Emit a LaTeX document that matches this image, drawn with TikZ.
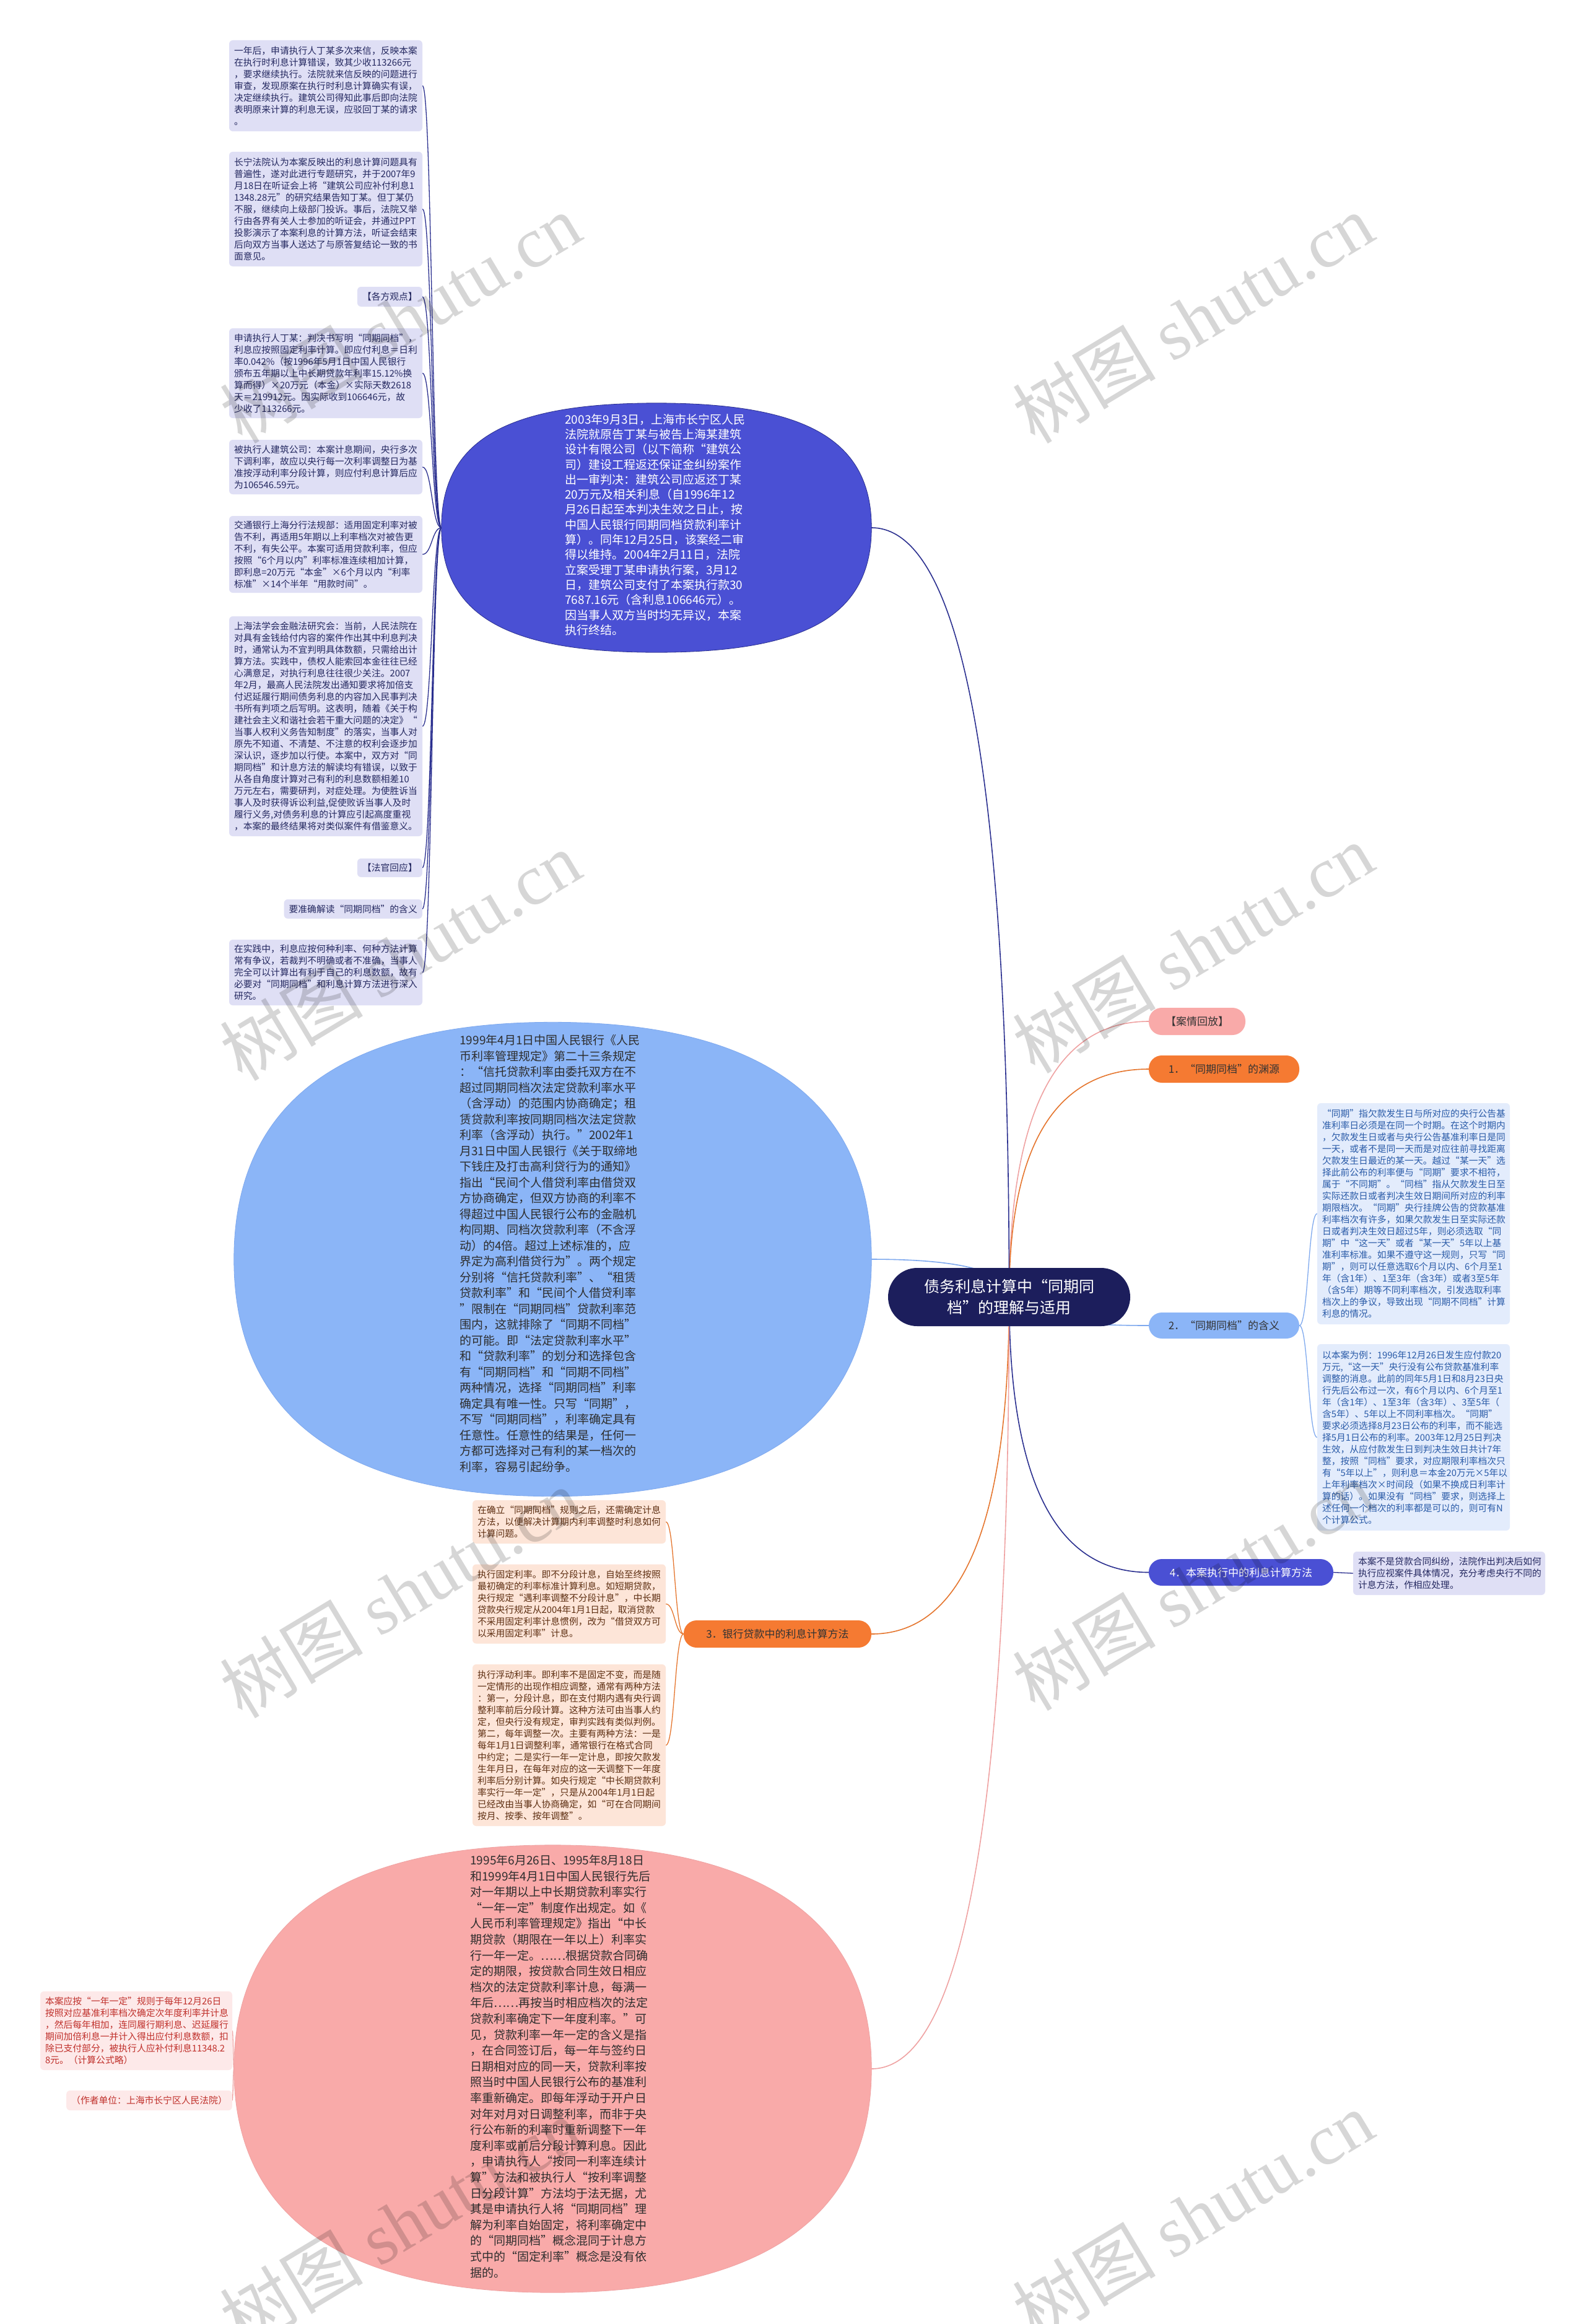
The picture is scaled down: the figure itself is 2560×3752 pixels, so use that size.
\documentclass[tikz,border=0pt]{standalone}
\usepackage{fontspec}
\setmainfont{Noto Sans CJK SC}
\newfontfamily\wmlat{Liberation Serif}
\usetikzlibrary{calc}
\pgfdeclarelayer{bg}
\pgfdeclarelayer{fg}
\pgfsetlayers{bg,main,fg}
\definecolor{navyline}{HTML}{2A2F8F}
\definecolor{indigof}{HTML}{4A50D4}
\definecolor{lbluef}{HTML}{8BB5F7}
\definecolor{lblueline}{HTML}{7FA9EE}
\definecolor{pinkf}{HTML}{F9AAA9}
\definecolor{pinkline}{HTML}{EFA2A2}
\definecolor{orangef}{HTML}{F57A32}
\definecolor{orangeline}{HTML}{E5752D}
\definecolor{rootf}{HTML}{1C1E5C}
\definecolor{lavbox}{HTML}{DFDFF5}
\definecolor{lavtext}{HTML}{242860}
\definecolor{bluebox}{HTML}{E3ECFC}
\definecolor{bluetext}{HTML}{2A5BA8}
\definecolor{peachbox}{HTML}{FDE5D8}
\definecolor{peachtext}{HTML}{5E2F12}
\definecolor{pinkbox}{HTML}{FDE9E9}
\definecolor{pinktext}{HTML}{C0302B}
\definecolor{pilltext}{HTML}{333333}
\definecolor{darktext}{HTML}{2D2D2D}
\newcommand{\rootlink}[2]{%
  \path (root.center |- #1) coordinate (rlc);
  \draw[#2] (root.center) .. controls ($(root.center)!0.6667!(rlc)$) and ($(#1)!0.6667!(rlc)$) .. (#1);}
\newcommand{\sublink}[3]{%
  \path ($(#1)!0.5!(#2)$) coordinate (slm);
  \draw[#3] (#1) .. controls (slm |- #1) and (slm |- #2) .. (#2);}
\newcommand{\superfill}[4]{%
  \filldraw[fill=#2, draw=#3, line width=0.8]
   (#1.east) .. controls ($(#1.east)!#4!(#1.north east)$) and ($(#1.north)!#4!(#1.north east)$) .. (#1.north)
   .. controls ($(#1.north)!#4!(#1.north west)$) and ($(#1.west)!#4!(#1.north west)$) .. (#1.west)
   .. controls ($(#1.west)!#4!(#1.south west)$) and ($(#1.south)!#4!(#1.south west)$) .. (#1.south)
   .. controls ($(#1.south)!#4!(#1.south east)$) and ($(#1.east)!#4!(#1.south east)$) .. (#1.east) -- cycle;}
\begin{document}
\begin{tikzpicture}[x=1pt,y=-1pt,
  smallfont/.style={font=\fontsize{14.8}{19}\selectfont},
  lbox/.style={smallfont, fill=lavbox, text=lavtext, rounded corners=6, inner xsep=8, inner ysep=0, align=left},
  bbox/.style={smallfont, fill=bluebox, text=bluetext, rounded corners=6, inner xsep=8, inner ysep=0, align=left},
  obox/.style={smallfont, fill=peachbox, text=peachtext, rounded corners=6, inner xsep=8, inner ysep=0, align=left},
  pbox/.style={smallfont, fill=pinkbox, text=pinktext, rounded corners=6, inner xsep=8, inner ysep=0, align=left},
  pill/.style={rounded corners=21, inner sep=0, minimum height=44, font=\fontsize{17}{20}\selectfont},
  holder/.style={inner sep=0, draw=none},
  rootln/.style={line width=1.6},
  subln/.style={line width=1.3},
  wm/.style={rotate=31, text=black, text opacity=0.16, font=\fontsize{116}{116}\selectfont, inner sep=0}]
\useasboundingbox (0,0) rectangle (2560,3752);

% ---------- root and branch pills ----------
\node[fill=rootf, text=white, rounded corners=47, minimum width=391, minimum height=94, inner sep=0, align=center, font=\fontsize{25}{34}\selectfont] (root) at (1629.5,2094) {债务利息计算中“同期同\\档”的理解与适用};
\node[pill, fill=pinkf, text=pilltext, minimum width=156] (kq) at (1933,1649) {【案情回放】};
\node[pill, fill=orangef, text=pilltext, minimum width=243] (n1) at (1976.5,1726) {1．“同期同档”的渊源};
\node[pill, fill=lbluef, text=pilltext, minimum width=243, minimum height=42] (n2) at (1976.5,2140) {2．“同期同档”的含义};
\node[pill, fill=indigof, text=white, minimum width=298, minimum height=43] (n4) at (2004,2538.5) {4．本案执行中的利息计算方法};
\node[pill, fill=orangef, text=pilltext, minimum width=303] (n3) at (1255.5,2638) {3．银行贷款中的利息计算方法};

% ---------- big rounded shapes ----------
\node[holder, minimum width=694, minimum height=402] (e2003) at (1060,852) {};
\superfill{e2003}{indigof}{navyline}{0.7}
\node[text=white, inner sep=0, align=left, font=\fontsize{19}{24.3}\selectfont] (t2003) at (1058,847) {2003年9月3日，上海市长宁区人民\\法院就原告丁某与被告上海某建筑\\设计有限公司（以下简称“建筑公\\司）建设工程返还保证金纠纷案作\\出一审判决：建筑公司应返还丁某\\20万元及相关利息（自1996年12\\月26日起至本判决生效之日止，按\\中国人民银行同期同档贷款利率计\\算）。同年12月25日，该案经二审\\得以维持。2004年2月11日，法院\\立案受理丁某申请执行案，3月12\\日，建筑公司支付了本案执行款30\\7687.16元（含利息106646元）。\\因当事人双方当时均无异议，本案\\执行终结。};

\node[holder, minimum width=1029, minimum height=765] (e1999) at (892.5,2033) {};
\superfill{e1999}{lbluef}{lblueline}{0.66}
\node[text=darktext, inner sep=0, align=left, font=\fontsize{19}{25.5}\selectfont] (t1999) at (888,2024) {1999年4月1日中国人民银行《人民\\币利率管理规定》第二十三条规定\\：“信托贷款利率由委托双方在不\\超过同期同档次法定贷款利率水平\\（含浮动）的范围内协商确定；租\\赁贷款利率按同期同档次法定贷款\\利率（含浮动）执行。”2002年1\\月31日中国人民银行《关于取缔地\\下钱庄及打击高利贷行为的通知》\\指出“民间个人借贷利率由借贷双\\方协商确定，但双方协商的利率不\\得超过中国人民银行公布的金融机\\构同期、同档次贷款利率（不含浮\\动）的4倍。超过上述标准的，应\\界定为高利借贷行为”。两个规定\\分别将“信托贷款利率”、“租赁\\贷款利率”和“民间个人借贷利率\\”限制在“同期同档”贷款利率范\\围内，这就排除了“同期不同档”\\的可能。即“法定贷款利率水平”\\和“贷款利率”的划分和选择包含\\有“同期同档”和“同期不同档”\\两种情况，选择“同期同档”利率\\确定具有唯一性。只写“同期”，\\不写“同期同档”，利率确定具有\\任意性。任意性的结果是，任何一\\方都可选择对己有利的某一档次的\\利率，容易引起纷争。};

\node[holder, minimum width=1029, minimum height=722] (epk) at (892.5,3340) {};
\superfill{epk}{pinkf}{pinkline}{0.66}
\node[text=darktext, inner sep=0, align=left, font=\fontsize{19}{25.6}\selectfont] (tpk) at (905,3336) {1995年6月26日、1995年8月18日\\和1999年4月1日中国人民银行先后\\对一年期以上中长期贷款利率实行\\“一年一定”制度作出规定。如《\\人民币利率管理规定》指出“中长\\期贷款（期限在一年以上）利率实\\行一年一定。……根据贷款合同确\\定的期限，按贷款合同生效日相应\\档次的法定贷款利率计息，每满一\\年后……再按当时相应档次的法定\\贷款利率确定下一年度利率。”可\\见，贷款利率一年一定的含义是指\\，在合同签订后，每一年与签约日\\日期相对应的同一天，贷款利率按\\照当时中国人民银行公布的基准利\\率重新确定。即每年浮动于开户日\\对年对月对日调整利率，而非于央\\行公布新的利率时重新调整下一年\\度利率或前后分段计算利息。因此\\，申请执行人“按同一利率连续计\\算”方法和被执行人“按利率调整\\日分段计算”方法均于法无据，尤\\其是申请执行人将“同期同档”理\\解为利率自始固定，将利率确定中\\的“同期同档”概念混同于计息方\\式中的“固定利率”概念是没有依\\据的。};

% ---------- top-left boxes ----------
\node[lbox, text width=296, minimum height=147] (tl1) at (526,138.5) {一年后，申请执行人丁某多次来信，反映本案\\在执行时利息计算错误，致其少收113266元\\，要求继续执行。法院就来信反映的问题进行\\审查，发现原案在执行时利息计算确实有误，\\决定继续执行。建筑公司得知此事后即向法院\\表明原来计算的利息无误，应驳回丁某的请求\\。};
\node[lbox, text width=296, minimum height=185] (tl2) at (526,337.5) {长宁法院认为本案反映出的利息计算问题具有\\普遍性，遂对此进行专题研究，并于2007年9\\月18日在听证会上将“建筑公司应补付利息1\\1348.28元”的研究结果告知丁某。但丁某仍\\不服，继续向上级部门投诉。事后，法院又举\\行由各界有关人士参加的听证会，并通过PPT\\投影演示了本案利息的计算方法，听证会结束\\后向双方当事人送达了与原答复结论一致的书\\面意见。};
\node[lbox, anchor=east, minimum height=32] (tl3) at (682,479) {【各方观点】};
\node[lbox, text width=296, minimum height=145] (tl4) at (526,602.5) {申请执行人丁某：判决书写明“同期同档”，\\利息应按照固定利率计算。即应付利息＝日利\\率0.042\%（按1996年5月1日中国人民银行\\颁布五年期以上中长期贷款年利率15.12\%换\\算而得）×20万元（本金）×实际天数2618\\天＝219912元。因实际收到106646元，故\\少收了113266元。};
\node[lbox, text width=296, minimum height=88] (tl5) at (526,754) {被执行人建筑公司：本案计息期间，央行多次\\下调利率，故应以央行每一次利率调整日为基\\准按浮动利率分段计算，则应付利息计算后应\\为106546.59元。};
\node[lbox, text width=296, minimum height=124] (tl6) at (526,895) {交通银行上海分行法规部：适用固定利率对被\\告不利，再适用5年期以上利率档次对被告更\\不利，有失公平。本案可适用贷款利率，但应\\按照“6个月以内”利率标准连续相加计算，\\即利息=20万元“本金”×6个月以内“利率\\标准”×14个半年“用款时间”。};
\node[lbox, text width=296, minimum height=355] (tl7) at (526,1172.5) {上海法学会金融法研究会：当前，人民法院在\\对具有金钱给付内容的案件作出其中利息判决\\时，通常认为不宜判明具体数额，只需给出计\\算方法。实践中，债权人能索回本金往往已经\\心满意足，对执行利息往往很少关注。2007\\年2月，最高人民法院发出通知要求将加倍支\\付迟延履行期间债务利息的内容加入民事判决\\书所有判项之后写明。这表明，随着《关于构\\建社会主义和谐社会若干重大问题的决定》“\\当事人权利义务告知制度”的落实，当事人对\\原先不知道、不清楚、不注意的权利会逐步加\\深认识，逐步加以行使。本案中，双方对“同\\期同档”和计息方法的解读均有错误，以致于\\从各自角度计算对己有利的利息数额相差10\\万元左右，需要研判，对症处理。为使胜诉当\\事人及时获得诉讼利益,促使败诉当事人及时\\履行义务,对债务利息的计算应引起高度重视\\，本案的最终结果将对类似案件有借鉴意义。};
\node[lbox, anchor=east, minimum height=30] (tl8) at (682,1401) {【法官回应】};
\node[lbox, anchor=east, minimum height=31] (tl9) at (682,1467.5) {要准确解读“同期同档”的含义};
\node[lbox, text width=296, minimum height=106] (tl10) at (526,1570) {在实践中，利息应按何种利率、何种方法计算\\常有争议，若裁判不明确或者不准确，当事人\\完全可以计算出有利于自己的利息数额，故有\\必要对“同期同档”和利息计算方法进行深入\\研究。};

% ---------- right boxes ----------
\node[bbox, text width=295, minimum height=357] (bh) at (2282.5,1959.5) {“同期”指欠款发生日与所对应的央行公告基\\准利率日必须是在同一个时期。在这个时期内\\，欠款发生日或者与央行公告基准利率日是同\\一天，或者不是同一天而是对应往前寻找距离\\欠款发生日最近的某一天。越过“某一天”选\\择此前公布的利率便与“同期”要求不相符，\\属于“不同期”。“同档”指从欠款发生日至\\实际还款日或者判决生效日期间所对应的利率\\期限档次。“同期”央行挂牌公告的贷款基准\\利率档次有许多，如果欠款发生日至实际还款\\日或者判决生效日超过5年，则必须选取“同\\期”中“这一天”或者“某一天”5年以上基\\准利率标准。如果不遵守这一规则，只写“同\\期”，则可以任意选取6个月以内、6个月至1\\年（含1年）、1至3年（含3年）或者3至5年\\（含5年）期等不同利率档次，引发选取利率\\档次上的争议，导致出现“同期不同档”计算\\利息的情况。};
\node[bbox, text width=295, minimum height=301] (bi) at (2282.5,2320.5) {以本案为例：1996年12月26日发生应付款20\\万元,“这一天”央行没有公布贷款基准利率\\调整的消息。此前的同年5月1日和8月23日央\\行先后公布过一次，有6个月以内、6个月至1\\年（含1年）、1至3年（含3年）、3至5年（\\含5年）、5年以上不同利率档次。“同期”\\要求必须选择8月23日公布的利率，而不能选\\择5月1日公布的利率。2003年12月25日判决\\生效，从应付款发生日到判决生效日共计7年\\整，按照“同档”要求，对应期限利率档次只\\有“5年以上”，则利息＝本金20万元×5年以\\上年利率档次×时间段（如果不换成日利率计\\算的话）。如果没有“同档”要求，则选择上\\述任何一个档次的利率都是可以的，则可有N\\个计算公式。};
\node[lbox, text width=294, minimum height=70] (bj) at (2340,2540) {本案不是贷款合同纠纷，法院作出判决后如何\\执行应视案件具体情况，充分考虑央行不同的\\计息方法，作相应处理。};

% ---------- peach boxes ----------
\node[obox, text width=296, minimum height=70] (bk) at (919,2457) {在确立“同期同档”规则之后，还需确定计息\\方法，以便解决计算期内利率调整时利息如何\\计算问题。};
\node[obox, text width=296, minimum height=128] (bl) at (919,2589.5) {执行固定利率。即不分段计息，自始至终按照\\最初确定的利率标准计算利息。如短期贷款，\\央行规定“遇利率调整不分段计息”，中长期\\贷款央行规定从2004年1月1日起，取消贷款\\不采用固定利率计息惯例，改为“借贷双方可\\以采用固定利率”计息。};
\node[obox, text width=296, minimum height=261] (bm) at (919,2817.5) {执行浮动利率。即利率不是固定不变，而是随\\一定情形的出现作相应调整，通常有两种方法\\：第一，分段计息，即在支付期内遇有央行调\\整利率前后分段计算。这种方法可由当事人约\\定，但央行没有规定，审判实践有类似判例。\\第二，每年调整一次。主要有两种方法：一是\\每年1月1日调整利率，通常银行在格式合同\\中约定；二是实行一年一定计息，即按欠款发\\生年月日，在每年对应的这一天调整下一年度\\利率后分别计算。如央行规定“中长期贷款利\\率实行一年一定”，只是从2004年1月1日起\\已经改由当事人协商确定，如“可在合同期间\\按月、按季、按年调整”。};

% ---------- pink boxes ----------
\node[pbox, text width=294, minimum height=127] (p1) at (220,3278.5) {本案应按“一年一定”规则于每年12月26日\\按照对应基准利率档次确定次年度利率并计息\\，然后每年相加，连同履行期利息、迟延履行\\期间加倍利息一并计入得出应付利息数额，扣\\除已支付部分，被执行人应补付利息11348.2\\8元。（计算公式略）};
\node[pbox, anchor=east, minimum height=32] (p2) at (375,3391) {（作者单位：上海市长宁区人民法院）};

% ---------- connectors ----------
\begin{pgfonlayer}{bg}
\fill[white] (0,0) rectangle (2560,3752);
\rootlink{kq.west}{rootln, pinkline}
\rootlink{n1.west}{rootln, orangeline}
\rootlink{n2.west}{rootln, lblueline}
\rootlink{n4.west}{rootln, navyline}
\rootlink{e2003.east}{rootln, navyline}
\rootlink{e1999.east}{rootln, lblueline}
\rootlink{n3.east}{rootln, orangeline}
\rootlink{epk.east}{rootln, pinkline}
\foreach \b in {tl1,tl2,tl3,tl4,tl5,tl6,tl7,tl8,tl9,tl10}{\sublink{e2003.west}{\b.east}{subln, navyline}}
\foreach \b in {bk,bl,bm}{\sublink{n3.west}{\b.east}{subln, orangeline}}
\foreach \b in {p1,p2}{\sublink{epk.west}{\b.east}{subln, pinkline}}
\foreach \b in {bh,bi}{\sublink{n2.east}{\b.west}{subln, lblueline}}
\sublink{n4.east}{bj.west}{subln, navyline}
\end{pgfonlayer}

% ---------- watermarks ----------
\begin{pgfonlayer}{fg}
\foreach \wx/\wy [count=\i] in {646/514, 1926/514, 646/1543, 1926/1531, 646/2572, 1926/2560, 646/3589, 1926/3577}
  \node[wm] (wm\i) at (\wx,\wy) {树图\ {\wmlat shutu.cn}};
\end{pgfonlayer}
\end{tikzpicture}
\end{document}
